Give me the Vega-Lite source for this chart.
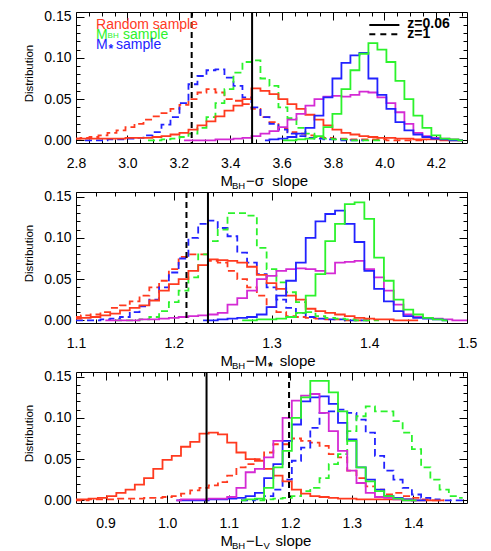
{
 "$schema": "https://vega.github.io/schema/vega-lite/v6.json",
 "padding": {"left": 23, "top": 9, "right": 0, "bottom": 0},
 "background": "white",
 "spacing": 49,
 "bounds": "flush",
 "config": {
  "view": {"stroke": "black", "strokeWidth": 1},
  "font": "Liberation Sans",
  "axis": {"grid": false, "domain": false, "labelFont": "Liberation Sans", "titleFont": "Liberation Sans", "labelColor": "black", "titleColor": "black", "tickColor": "black", "titleFontWeight": "normal", "labelFlush": false, "labelOverlap": false, "labelFontSize": 14},
  "text": {"font": "Liberation Sans"}
 },
 "datasets": {
  "p1": [
{"x":2.8,"rs":0.002,"rd":0.002},
{"x":2.835,"rs":0.002,"rd":0.003,"bd":0},
{"x":2.87,"rs":0.002,"rd":0.004,"bd":0},
{"x":2.905,"rs":0.002,"rd":0.006,"bd":0},
{"x":2.94,"rs":0.002,"rd":0.009,"bd":0.001},
{"x":2.975,"rs":0.002,"rd":0.012,"bd":0.001},
{"x":3.01,"rs":0.003,"rd":0.016,"bd":0.002},
{"x":3.045,"rs":0.003,"rd":0.02,"bd":0.003},
{"x":3.08,"rs":0.003,"rd":0.025,"bd":0.006,"gd":0},
{"x":3.115,"rs":0.004,"rd":0.029,"bd":0.01,"gd":0},
{"x":3.15,"rs":0.005,"rd":0.033,"bd":0.019,"gd":0.001},
{"x":3.185,"rs":0.007,"rd":0.038,"bd":0.028,"gd":0.002},
{"x":3.22,"rs":0.009,"rd":0.043,"bd":0.045,"gd":0.004,"ms":0},
{"x":3.255,"rs":0.013,"rd":0.05,"bd":0.068,"gd":0.008,"ms":0},
{"x":3.29,"rs":0.018,"rd":0.058,"bd":0.078,"gd":0.015,"ms":0},
{"x":3.325,"rs":0.023,"rd":0.062,"bd":0.085,"gd":0.028,"ms":0},
{"x":3.36,"rs":0.029,"rd":0.058,"bd":0.086,"gd":0.045,"ms":0.001},
{"x":3.395,"rs":0.036,"rd":0.05,"bd":0.076,"gd":0.062,"ms":0.001},
{"x":3.43,"rs":0.042,"rd":0.048,"bd":0.066,"gd":0.082,"ms":0.002},
{"x":3.465,"rs":0.05,"rd":0.044,"bd":0.052,"gd":0.095,"ms":0.003},
{"x":3.5,"rs":0.063,"rd":0.038,"bd":0.04,"gd":0.097,"ms":0.005},
{"x":3.535,"rs":0.06,"rd":0.028,"bd":0.028,"gd":0.075,"ms":0.008,"bs":0},
{"x":3.57,"rs":0.056,"rd":0.022,"bd":0.02,"gd":0.066,"ms":0.011,"bs":0.001},
{"x":3.605,"rs":0.05,"rd":0.014,"bd":0.013,"gd":0.04,"ms":0.016,"bs":0.002,"gs":0},
{"x":3.64,"rs":0.044,"rd":0.01,"bd":0.008,"gd":0.027,"ms":0.025,"bs":0.004,"gs":0},
{"x":3.675,"rs":0.038,"rd":0.008,"bd":0.005,"gd":0.015,"ms":0.032,"bs":0.008,"gs":0.001},
{"x":3.71,"rs":0.031,"rd":0.006,"bd":0.003,"gd":0.008,"ms":0.042,"bs":0.015,"gs":0.002},
{"x":3.745,"rs":0.025,"rd":0.004,"bd":0.002,"gd":0.004,"ms":0.05,"bs":0.03,"gs":0.005},
{"x":3.78,"rs":0.018,"rd":0.003,"bd":0.001,"gd":0.002,"ms":0.053,"bs":0.052,"gs":0.016},
{"x":3.815,"rs":0.013,"rd":0.002,"bd":0.001,"gd":0.001,"ms":0.054,"bs":0.075,"gs":0.032},
{"x":3.85,"rs":0.009,"rd":0.002,"bd":0,"gd":0.001,"ms":0.053,"bs":0.094,"gs":0.062},
{"x":3.885,"rs":0.007,"rd":0.001,"bd":0,"gd":0,"ms":0.055,"bs":0.103,"gs":0.085},
{"x":3.92,"rs":0.005,"rd":0.001,"bd":0,"gd":0,"ms":0.059,"bs":0.106,"gs":0.105},
{"x":3.955,"rs":0.004,"rd":0.001,"gd":0,"ms":0.058,"bs":0.075,"gs":0.118},
{"x":3.99,"rs":0.003,"rd":0.001,"gd":0,"ms":0.052,"bs":0.055,"gs":0.11},
{"x":4.025,"rs":0.003,"rd":0,"ms":0.045,"bs":0.038,"gs":0.095},
{"x":4.06,"rs":0.002,"rd":0,"ms":0.034,"bs":0.022,"gs":0.072},
{"x":4.095,"rs":0.002,"rd":0,"ms":0.02,"bs":0.012,"gs":0.05},
{"x":4.13,"rs":0.001,"rd":0,"ms":0.009,"bs":0.007,"gs":0.03},
{"x":4.165,"rs":0.001,"rd":0,"ms":0.005,"bs":0.004,"gs":0.015},
{"x":4.2,"rs":0.001,"ms":0.003,"bs":0.002,"gs":0.006},
{"x":4.235,"rs":0,"ms":0.002,"bs":0.001,"gs":0.002},
{"x":4.27,"rs":0,"ms":0.001,"bs":0,"gs":0.001},
{"x":4.305,"rs":0,"ms":0,"bs":0,"gs":0}
  ],
  "p2": [
{"x":1.1,"rs":0.002,"rd":0.004,"bd":0},
{"x":1.11,"rs":0.003,"rd":0.006,"bd":0},
{"x":1.12,"rs":0.004,"rd":0.007,"bd":0},
{"x":1.13,"rs":0.006,"rd":0.01,"bd":0.001,"ms":0},
{"x":1.14,"rs":0.008,"rd":0.015,"bd":0.002,"ms":0,"gd":0},
{"x":1.15,"rs":0.012,"rd":0.018,"bd":0.004,"ms":0,"gd":0},
{"x":1.16,"rs":0.015,"rd":0.023,"bd":0.01,"ms":0,"gd":0},
{"x":1.17,"rs":0.018,"rd":0.03,"bd":0.017,"ms":0.001,"gd":0.001},
{"x":1.18,"rs":0.024,"rd":0.04,"bd":0.025,"ms":0.001,"gd":0.004},
{"x":1.19,"rs":0.036,"rd":0.048,"bd":0.04,"ms":0.002,"gd":0.011},
{"x":1.2,"rs":0.044,"rd":0.062,"bd":0.058,"ms":0.003,"gd":0.022},
{"x":1.21,"rs":0.05,"rd":0.077,"bd":0.075,"ms":0.004,"gd":0.036},
{"x":1.22,"rs":0.06,"rd":0.08,"bd":0.1,"ms":0.005,"gd":0.052},
{"x":1.23,"rs":0.067,"rd":0.08,"bd":0.117,"ms":0.006,"gd":0.08,"bs":0},
{"x":1.24,"rs":0.074,"rd":0.072,"bd":0.121,"ms":0.007,"gd":0.096,"bs":0},
{"x":1.25,"rs":0.073,"rd":0.07,"bd":0.112,"ms":0.009,"gd":0.11,"bs":0.001},
{"x":1.26,"rs":0.072,"rd":0.06,"bd":0.102,"ms":0.019,"gd":0.13,"bs":0.002},
{"x":1.27,"rs":0.07,"rd":0.05,"bd":0.082,"ms":0.027,"gd":0.13,"bs":0.003,"gs":0},
{"x":1.28,"rs":0.065,"rd":0.04,"bd":0.07,"ms":0.036,"gd":0.127,"bs":0.004,"gs":0},
{"x":1.29,"rs":0.055,"rd":0.03,"bd":0.056,"ms":0.05,"gd":0.088,"bs":0.007,"gs":0.001},
{"x":1.3,"rs":0.045,"rd":0.016,"bd":0.04,"ms":0.054,"gd":0.062,"bs":0.016,"gs":0.001},
{"x":1.31,"rs":0.038,"rd":0.01,"bd":0.025,"ms":0.06,"gd":0.046,"bs":0.03,"gs":0.002},
{"x":1.32,"rs":0.03,"rd":0.005,"bd":0.015,"ms":0.062,"gd":0.034,"bs":0.048,"gs":0.004},
{"x":1.33,"rs":0.025,"rd":0.004,"bd":0.009,"ms":0.063,"gd":0.022,"bs":0.07,"gs":0.009},
{"x":1.34,"rs":0.014,"rd":0.003,"bd":0.004,"ms":0.062,"gd":0.01,"bs":0.1,"gs":0.03},
{"x":1.35,"rs":0.011,"rd":0.002,"bd":0.002,"ms":0.06,"gd":0.005,"bs":0.12,"gs":0.056},
{"x":1.36,"rs":0.009,"rd":0.001,"bd":0.001,"ms":0.057,"gd":0.003,"bs":0.129,"gs":0.096},
{"x":1.37,"rs":0.007,"rd":0.001,"bd":0.001,"ms":0.07,"gd":0.002,"bs":0.133,"gs":0.117},
{"x":1.38,"rs":0.005,"rd":0,"bd":0,"ms":0.071,"gd":0.001,"bs":0.117,"gs":0.141},
{"x":1.39,"rs":0.003,"rd":0,"bd":0,"ms":0.072,"gd":0,"bs":0.095,"gs":0.143},
{"x":1.4,"rs":0.002,"rd":0,"bd":0,"ms":0.062,"gd":0,"bs":0.06,"gs":0.123},
{"x":1.41,"rs":0.001,"ms":0.052,"gd":0,"bs":0.038,"gs":0.076},
{"x":1.42,"rs":0.001,"ms":0.036,"bs":0.023,"gs":0.048},
{"x":1.43,"rs":0,"ms":0.019,"bs":0.011,"gs":0.025},
{"x":1.44,"rs":0,"ms":0.007,"bs":0.005,"gs":0.013},
{"x":1.45,"rs":0,"ms":0.004,"bs":0.003,"gs":0.007},
{"x":1.46,"ms":0.003,"bs":0.002,"gs":0.003},
{"x":1.47,"ms":0.002,"bs":0.001,"gs":0.001},
{"x":1.48,"ms":0.001,"bs":0,"gs":0},
{"x":1.49,"ms":0},
{"x":1.5,"ms":0}
  ],
  "p3": [
{"x":0.85,"rs":0.001,"rd":0},
{"x":0.865,"rs":0.001,"rd":0},
{"x":0.88,"rs":0.002,"rd":0.001},
{"x":0.895,"rs":0.003,"rd":0.001},
{"x":0.91,"rs":0.005,"rd":0.001},
{"x":0.925,"rs":0.009,"rd":0.002},
{"x":0.94,"rs":0.013,"rd":0.002},
{"x":0.955,"rs":0.019,"rd":0.002},
{"x":0.97,"rs":0.027,"rd":0.003},
{"x":0.985,"rs":0.038,"rd":0.003},
{"x":1.0,"rs":0.049,"rd":0.004},
{"x":1.015,"rs":0.054,"rd":0.005,"ms":0,"bs":0},
{"x":1.03,"rs":0.065,"rd":0.008,"ms":0.001,"bs":0},
{"x":1.045,"rs":0.071,"rd":0.012,"ms":0.001,"bs":0},
{"x":1.06,"rs":0.081,"rd":0.015,"ms":0.001,"bs":0},
{"x":1.075,"rs":0.082,"rd":0.018,"ms":0.002,"bs":0.001},
{"x":1.09,"rs":0.08,"rd":0.022,"ms":0.002,"bs":0.001},
{"x":1.105,"rs":0.07,"rd":0.03,"ms":0.004,"bs":0.002},
{"x":1.12,"rs":0.058,"rd":0.04,"ms":0.015,"bs":0.003,"gs":0,"bd":0},
{"x":1.135,"rs":0.05,"rd":0.044,"ms":0.034,"bs":0.005,"gs":0.001,"bd":0},
{"x":1.15,"rs":0.048,"rd":0.05,"ms":0.038,"bs":0.009,"gs":0.002,"bd":0.001,"gd":0},
{"x":1.165,"rs":0.038,"rd":0.058,"ms":0.052,"bs":0.027,"gs":0.015,"bd":0.005,"gd":0.001},
{"x":1.18,"rs":0.03,"rd":0.068,"ms":0.072,"bs":0.044,"gs":0.04,"bd":0.013,"gd":0.002},
{"x":1.195,"rs":0.023,"rd":0.068,"ms":0.1,"bs":0.072,"gs":0.06,"bd":0.025,"gd":0.003},
{"x":1.21,"rs":0.013,"rd":0.075,"ms":0.121,"bs":0.092,"gs":0.1,"bd":0.048,"gd":0.005},
{"x":1.225,"rs":0.008,"rd":0.072,"ms":0.127,"bs":0.12,"gs":0.125,"bd":0.064,"gd":0.011},
{"x":1.24,"rs":0.005,"rd":0.07,"ms":0.129,"bs":0.125,"gs":0.145,"bd":0.088,"gd":0.015},
{"x":1.255,"rs":0.004,"rd":0.066,"ms":0.106,"bs":0.126,"gs":0.145,"bd":0.106,"gd":0.027},
{"x":1.27,"rs":0.003,"rd":0.056,"ms":0.084,"bs":0.117,"gs":0.131,"bd":0.108,"gd":0.044},
{"x":1.285,"rs":0.002,"rd":0.052,"ms":0.06,"bs":0.094,"gs":0.108,"bd":0.11,"gd":0.056},
{"x":1.3,"rs":0.002,"rd":0.036,"ms":0.036,"bs":0.074,"gs":0.072,"bd":0.106,"gd":0.084},
{"x":1.315,"rs":0.001,"rd":0.027,"ms":0.021,"bs":0.04,"gs":0.04,"bd":0.098,"gd":0.102},
{"x":1.33,"rs":0.001,"rd":0.017,"ms":0.009,"bs":0.025,"gs":0.023,"bd":0.082,"gd":0.114},
{"x":1.345,"rs":0.001,"rd":0.013,"ms":0.004,"bs":0.013,"gs":0.011,"bd":0.054,"gd":0.108},
{"x":1.36,"rs":0.001,"rd":0.007,"ms":0.003,"bs":0.005,"gs":0.005,"bd":0.036,"gd":0.108},
{"x":1.375,"rs":0.001,"rd":0.009,"ms":0.001,"bs":0.003,"gs":0.002,"bd":0.025,"gd":0.096},
{"x":1.39,"rs":0.001,"rd":0.005,"ms":0,"bs":0.001,"gs":0,"bd":0.015,"gd":0.082},
{"x":1.405,"rs":0,"rd":0.003,"ms":0,"bs":0,"gs":0,"bd":0.007,"gd":0.062},
{"x":1.42,"rs":0,"rd":0.001,"bs":0,"bd":0.003,"gd":0.04},
{"x":1.435,"rs":0,"rd":0,"bd":0.001,"gd":0.025},
{"x":1.45,"rs":0,"rd":0,"bd":0,"gd":0.013},
{"x":1.465,"bd":0,"gd":0.005},
{"x":1.48,"bd":0,"gd":0.003}
  ]
 },
 "vconcat": [
  {
   "width": 391, "height": 131,
   "resolve": {"axis": {"x": "independent", "y": "independent"}},
   "layer": [
    {
     "data": {"name": "p1"},
     "transform": [{"fold": ["rd", "gd", "bd"], "as": ["s", "v"]}, {"filter": "isValid(datum.v)"}],
     "mark": {"type": "line", "interpolate": "step", "strokeWidth": 1.8, "strokeDash": [7, 4], "clip": true},
     "encoding": {
      "x": {"field": "x", "type": "quantitative", "scale": {"domain": [2.8, 4.321], "nice": false, "zero": false},
       "axis": {"orient": "top", "values": [2.8,2.85,2.9,2.95,3,3.05,3.1,3.15,3.2,3.25,3.3,3.35,3.4,3.45,3.5,3.55,3.6,3.65,3.7,3.75,3.8,3.85,3.9,3.95,4,4.05,4.1,4.15,4.2,4.25,4.3], "labels": false,
        "tickSize": {"condition": {"test": "abs(datum.value*5-round(datum.value*5))<0.001", "value": -8}, "value": -4},
        "title": "BH", "titleFontSize": 9.5, "titleX": 155.5, "titleY": 176.5, "titleAlign": "left", "titleBaseline": "alphabetic", "titleAngle": 0}},
      "y": {"field": "v", "type": "quantitative", "scale": {"domain": [-0.0033, 0.1557], "nice": false, "zero": false},
       "axis": {"orient": "right", "values": [0,0.01,0.02,0.03,0.04,0.05,0.06,0.07,0.08,0.09,0.1,0.11,0.12,0.13,0.14,0.15], "labels": false,
        "tickSize": {"condition": {"test": "abs(datum.value*20-round(datum.value*20))<0.001", "value": -8}, "value": -4},
        "title": "−σ\u00a0\u00a0slope", "titleFontSize": 15, "titleX": -221.5, "titleY": 173.5, "titleAlign": "left", "titleBaseline": "alphabetic", "titleAngle": 0}},
      "color": {"field": "s", "type": "nominal", "legend": null, "scale": {"domain": ["rs","rd","gs","gd","bs","bd","ms"], "range": ["#ff3a1f","#ff3a1f","#2cf22c","#2cf22c","#2222ff","#2222ff","#d42ad4"]}}
     }
    },
    {
     "data": {"name": "p1"},
     "transform": [{"fold": ["rs", "gs", "bs", "ms"], "as": ["s", "v"]}, {"filter": "isValid(datum.v)"}],
     "mark": {"type": "line", "interpolate": "step", "strokeWidth": 1.8, "clip": true},
     "encoding": {
      "x": {"field": "x", "type": "quantitative", "scale": {"domain": [2.8, 4.321], "nice": false, "zero": false},
       "axis": {"orient": "bottom", "values": [2.8,2.85,2.9,2.95,3,3.05,3.1,3.15,3.2,3.25,3.3,3.35,3.4,3.45,3.5,3.55,3.6,3.65,3.7,3.75,3.8,3.85,3.9,3.95,4,4.05,4.1,4.15,4.2,4.25,4.3], "format": ".1f",
        "labelExpr": "abs(datum.value*5-round(datum.value*5))<0.001 ? datum.label : ''",
        "tickSize": {"condition": {"test": "abs(datum.value*5-round(datum.value*5))<0.001", "value": -8}, "value": -4},
        "labelPadding": 21,
        "title": "M", "titleFontSize": 15, "titleX": 144, "titleY": 42.5, "titleAlign": "left", "titleBaseline": "alphabetic", "titleAngle": 0}},
      "y": {"field": "v", "type": "quantitative", "scale": {"domain": [-0.0033, 0.1557], "nice": false, "zero": false},
       "axis": {"orient": "left", "values": [0,0.01,0.02,0.03,0.04,0.05,0.06,0.07,0.08,0.09,0.1,0.11,0.12,0.13,0.14,0.15], "format": ".2f",
        "labelExpr": "abs(datum.value*20-round(datum.value*20))<0.001 ? datum.label : ''",
        "tickSize": {"condition": {"test": "abs(datum.value*20-round(datum.value*20))<0.001", "value": -8}, "value": -4},
        "labelPadding": 13,
        "title": "Distribution", "titleFontSize": 11.5, "titlePadding": 9, "titleY": 61}},
      "color": {"field": "s", "type": "nominal", "legend": null, "scale": {"domain": ["rs","rd","gs","gd","bs","bd","ms"], "range": ["#ff3a1f","#ff3a1f","#2cf22c","#2cf22c","#2222ff","#2222ff","#d42ad4"]}}
     }
    },
    {
     "data": {"values": [{"x": 3.485, "z": "z=0.06"}, {"x": 3.25, "z": "z=1"}]},
     "mark": {"type": "rule", "color": "black", "strokeWidth": 2},
     "encoding": {
      "x": {"field": "x", "type": "quantitative", "axis": null},
      "strokeDash": {"field": "z", "type": "nominal", "scale": {"domain": ["z=0.06", "z=1"], "range": [[1, 0], [6, 4]]}, "legend": null}
     }
    },
    {
     "data": {"values": [{}]},
     "mark": {"type": "rule", "color": "black", "strokeWidth": 2},
     "encoding": {"x": {"datum": 3.941, "type": "quantitative", "axis": null}, "x2": {"datum": 4.058}, "y": {"datum": 0.1399, "type": "quantitative", "axis": null}}
    },
    {
     "data": {"values": [{}]},
     "mark": {"type": "rule", "color": "black", "strokeWidth": 2, "strokeDash": [6, 5]},
     "encoding": {"x": {"datum": 3.941, "type": "quantitative", "axis": null}, "x2": {"datum": 4.058}, "y": {"datum": 0.1286, "type": "quantitative", "axis": null}}
    },
    {
     "data": {"values": [{}]},
     "mark": {"type": "text", "text": "z=0.06", "color": "black", "fontSize": 14, "fontWeight": "bold", "align": "left", "baseline": "alphabetic"},
     "encoding": {"x": {"datum": 4.089, "type": "quantitative", "axis": null}, "y": {"datum": 0.1359, "type": "quantitative", "axis": null}}
    },
    {
     "data": {"values": [{}]},
     "mark": {"type": "text", "text": "z=1", "color": "black", "fontSize": 14, "fontWeight": "bold", "align": "left", "baseline": "alphabetic"},
     "encoding": {"x": {"datum": 4.089, "type": "quantitative", "axis": null}, "y": {"datum": 0.1245, "type": "quantitative", "axis": null}}
    },
    {
     "data": {"values": [{}]},
     "mark": {"type": "text", "text": "Random sample", "color": "#ff3a1f", "fontSize": 14, "align": "left", "baseline": "alphabetic"},
     "encoding": {"x": {"datum": 2.878, "type": "quantitative", "axis": null}, "y": {"datum": 0.1354, "type": "quantitative", "axis": null}}
    },
    {
     "data": {"values": [{}]},
     "mark": {"type": "text", "text": "M", "color": "#2cf22c", "fontSize": 14, "align": "left", "baseline": "alphabetic"},
     "encoding": {"x": {"datum": 2.878, "type": "quantitative", "axis": null}, "y": {"datum": 0.1233, "type": "quantitative", "axis": null}}
    },
    {
     "data": {"values": [{}]},
     "mark": {"type": "text", "text": "BH", "color": "#2cf22c", "fontSize": 8, "align": "left", "baseline": "alphabetic", "dx": 11.5, "dy": -1},
     "encoding": {"x": {"datum": 2.878, "type": "quantitative", "axis": null}, "y": {"datum": 0.1233, "type": "quantitative", "axis": null}}
    },
    {
     "data": {"values": [{}]},
     "mark": {"type": "text", "text": "sample", "color": "#2cf22c", "fontSize": 14, "align": "left", "baseline": "alphabetic", "dx": 27},
     "encoding": {"x": {"datum": 2.878, "type": "quantitative", "axis": null}, "y": {"datum": 0.1233, "type": "quantitative", "axis": null}}
    },
    {
     "data": {"values": [{}]},
     "mark": {"type": "text", "text": "M", "color": "#2222ff", "fontSize": 14, "align": "left", "baseline": "alphabetic"},
     "encoding": {"x": {"datum": 2.878, "type": "quantitative", "axis": null}, "y": {"datum": 0.1108, "type": "quantitative", "axis": null}}
    },
    {
     "data": {"values": [{}]},
     "mark": {"type": "text", "text": "*", "color": "#2222ff", "fontSize": 12, "fontWeight": "bold", "align": "left", "baseline": "alphabetic", "dx": 12.5, "dy": 4},
     "encoding": {"x": {"datum": 2.878, "type": "quantitative", "axis": null}, "y": {"datum": 0.1108, "type": "quantitative", "axis": null}}
    },
    {
     "data": {"values": [{}]},
     "mark": {"type": "text", "text": "sample", "color": "#2222ff", "fontSize": 14, "align": "left", "baseline": "alphabetic", "dx": 20},
     "encoding": {"x": {"datum": 2.878, "type": "quantitative", "axis": null}, "y": {"datum": 0.1108, "type": "quantitative", "axis": null}}
    }
   ]
  },
  {
   "width": 391, "height": 131,
   "resolve": {"axis": {"x": "independent", "y": "independent"}},
   "layer": [
    {
     "data": {"name": "p2"},
     "transform": [{"fold": ["rd", "gd", "bd"], "as": ["s", "v"]}, {"filter": "isValid(datum.v)"}],
     "mark": {"type": "line", "interpolate": "step", "strokeWidth": 1.8, "strokeDash": [7, 4], "clip": true},
     "encoding": {
      "x": {"field": "x", "type": "quantitative", "scale": {"domain": [1.1, 1.5], "nice": false, "zero": false},
       "axis": {"orient": "top", "values": [1.1,1.12,1.14,1.16,1.18,1.2,1.22,1.24,1.26,1.28,1.3,1.32,1.34,1.36,1.38,1.4,1.42,1.44,1.46,1.48,1.5], "labels": false,
        "tickSize": {"condition": {"test": "abs(datum.value*10-round(datum.value*10))<0.001", "value": -8}, "value": -4},
        "title": "BH", "titleFontSize": 9.5, "titleX": 155.5, "titleY": 176.5, "titleAlign": "left", "titleBaseline": "alphabetic", "titleAngle": 0}},
      "y": {"field": "v", "type": "quantitative", "scale": {"domain": [-0.0033, 0.1557], "nice": false, "zero": false},
       "axis": {"orient": "right", "values": [0,0.01,0.02,0.03,0.04,0.05,0.06,0.07,0.08,0.09,0.1,0.11,0.12,0.13,0.14,0.15], "labels": false,
        "tickSize": {"condition": {"test": "abs(datum.value*20-round(datum.value*20))<0.001", "value": -8}, "value": -4},
        "title": "−M\u00a0\u00a0\u00a0slope", "titleFontSize": 15, "titleX": -221.5, "titleY": 173.5, "titleAlign": "left", "titleBaseline": "alphabetic", "titleAngle": 0}},
      "color": {"field": "s", "type": "nominal", "legend": null, "scale": {"domain": ["rs","rd","gs","gd","bs","bd","ms"], "range": ["#ff3a1f","#ff3a1f","#2cf22c","#2cf22c","#2222ff","#2222ff","#d42ad4"]}}
     }
    },
    {
     "data": {"name": "p2"},
     "transform": [{"fold": ["rs", "gs", "bs", "ms"], "as": ["s", "v"]}, {"filter": "isValid(datum.v)"}],
     "mark": {"type": "line", "interpolate": "step", "strokeWidth": 1.8, "clip": true},
     "encoding": {
      "x": {"field": "x", "type": "quantitative", "scale": {"domain": [1.1, 1.5], "nice": false, "zero": false},
       "axis": {"orient": "bottom", "values": [1.1,1.12,1.14,1.16,1.18,1.2,1.22,1.24,1.26,1.28,1.3,1.32,1.34,1.36,1.38,1.4,1.42,1.44,1.46,1.48,1.5], "format": ".1f",
        "labelExpr": "abs(datum.value*10-round(datum.value*10))<0.001 ? datum.label : ''",
        "tickSize": {"condition": {"test": "abs(datum.value*10-round(datum.value*10))<0.001", "value": -8}, "value": -4},
        "labelPadding": 21,
        "title": "M", "titleFontSize": 15, "titleX": 144, "titleY": 42.5, "titleAlign": "left", "titleBaseline": "alphabetic", "titleAngle": 0}},
      "y": {"field": "v", "type": "quantitative", "scale": {"domain": [-0.0033, 0.1557], "nice": false, "zero": false},
       "axis": {"orient": "left", "values": [0,0.01,0.02,0.03,0.04,0.05,0.06,0.07,0.08,0.09,0.1,0.11,0.12,0.13,0.14,0.15], "format": ".2f",
        "labelExpr": "abs(datum.value*20-round(datum.value*20))<0.001 ? datum.label : ''",
        "tickSize": {"condition": {"test": "abs(datum.value*20-round(datum.value*20))<0.001", "value": -8}, "value": -4},
        "labelPadding": 13,
        "title": "Distribution", "titleFontSize": 11.5, "titlePadding": 9, "titleY": 61}},
      "color": {"field": "s", "type": "nominal", "legend": null, "scale": {"domain": ["rs","rd","gs","gd","bs","bd","ms"], "range": ["#ff3a1f","#ff3a1f","#2cf22c","#2cf22c","#2222ff","#2222ff","#d42ad4"]}}
     }
    },
    {
     "data": {"values": [{"x": 1.235, "z": "z=0.06"}, {"x": 1.213, "z": "z=1"}]},
     "mark": {"type": "rule", "color": "black", "strokeWidth": 2},
     "encoding": {
      "x": {"field": "x", "type": "quantitative", "axis": {"orient": "bottom", "ticks": false, "labels": false, "title": "*", "titleFontSize": 12, "titleFontWeight": "bold", "titleX": 191.5, "titleY": 47, "titleAlign": "left", "titleBaseline": "alphabetic", "titleAngle": 0}},
      "strokeDash": {"field": "z", "type": "nominal", "scale": {"domain": ["z=0.06", "z=1"], "range": [[1, 0], [6, 4]]}, "legend": null}
     }
    }
   ]
  },
  {
   "width": 391, "height": 131,
   "resolve": {"axis": {"x": "independent", "y": "independent"}},
   "layer": [
    {
     "data": {"name": "p3"},
     "transform": [{"fold": ["rd", "gd", "bd"], "as": ["s", "v"]}, {"filter": "isValid(datum.v)"}],
     "mark": {"type": "line", "interpolate": "step", "strokeWidth": 1.8, "strokeDash": [7, 4], "clip": true},
     "encoding": {
      "x": {"field": "x", "type": "quantitative", "scale": {"domain": [0.852, 1.487], "nice": false, "zero": false},
       "axis": {"orient": "top", "values": [0.86,0.88,0.9,0.92,0.94,0.96,0.98,1,1.02,1.04,1.06,1.08,1.1,1.12,1.14,1.16,1.18,1.2,1.22,1.24,1.26,1.28,1.3,1.32,1.34,1.36,1.38,1.4,1.42,1.44,1.46,1.48], "labels": false,
        "tickSize": {"condition": {"test": "abs(datum.value*10-round(datum.value*10))<0.001", "value": -8}, "value": -4},
        "title": "BH", "titleFontSize": 9.5, "titleX": 155.5, "titleY": 176.5, "titleAlign": "left", "titleBaseline": "alphabetic", "titleAngle": 0}},
      "y": {"field": "v", "type": "quantitative", "scale": {"domain": [-0.0033, 0.1557], "nice": false, "zero": false},
       "axis": {"orient": "right", "values": [0,0.01,0.02,0.03,0.04,0.05,0.06,0.07,0.08,0.09,0.1,0.11,0.12,0.13,0.14,0.15], "labels": false,
        "tickSize": {"condition": {"test": "abs(datum.value*20-round(datum.value*20))<0.001", "value": -8}, "value": -4},
        "title": "−L\u00a0\u00a0\u00a0slope", "titleFontSize": 15, "titleX": -221.5, "titleY": 173.5, "titleAlign": "left", "titleBaseline": "alphabetic", "titleAngle": 0}},
      "color": {"field": "s", "type": "nominal", "legend": null, "scale": {"domain": ["rs","rd","gs","gd","bs","bd","ms"], "range": ["#ff3a1f","#ff3a1f","#2cf22c","#2cf22c","#2222ff","#2222ff","#d42ad4"]}}
     }
    },
    {
     "data": {"name": "p3"},
     "transform": [{"fold": ["rs", "gs", "bs", "ms"], "as": ["s", "v"]}, {"filter": "isValid(datum.v)"}],
     "mark": {"type": "line", "interpolate": "step", "strokeWidth": 1.8, "clip": true},
     "encoding": {
      "x": {"field": "x", "type": "quantitative", "scale": {"domain": [0.852, 1.487], "nice": false, "zero": false},
       "axis": {"orient": "bottom", "values": [0.86,0.88,0.9,0.92,0.94,0.96,0.98,1,1.02,1.04,1.06,1.08,1.1,1.12,1.14,1.16,1.18,1.2,1.22,1.24,1.26,1.28,1.3,1.32,1.34,1.36,1.38,1.4,1.42,1.44,1.46,1.48], "format": ".1f",
        "labelExpr": "abs(datum.value*10-round(datum.value*10))<0.001 ? datum.label : ''",
        "tickSize": {"condition": {"test": "abs(datum.value*10-round(datum.value*10))<0.001", "value": -8}, "value": -4},
        "labelPadding": 21,
        "title": "M", "titleFontSize": 15, "titleX": 144, "titleY": 42.5, "titleAlign": "left", "titleBaseline": "alphabetic", "titleAngle": 0}},
      "y": {"field": "v", "type": "quantitative", "scale": {"domain": [-0.0033, 0.1557], "nice": false, "zero": false},
       "axis": {"orient": "left", "values": [0,0.01,0.02,0.03,0.04,0.05,0.06,0.07,0.08,0.09,0.1,0.11,0.12,0.13,0.14,0.15], "format": ".2f",
        "labelExpr": "abs(datum.value*20-round(datum.value*20))<0.001 ? datum.label : ''",
        "tickSize": {"condition": {"test": "abs(datum.value*20-round(datum.value*20))<0.001", "value": -8}, "value": -4},
        "labelPadding": 13,
        "title": "Distribution", "titleFontSize": 11.5, "titlePadding": 9, "titleY": 61}},
      "color": {"field": "s", "type": "nominal", "legend": null, "scale": {"domain": ["rs","rd","gs","gd","bs","bd","ms"], "range": ["#ff3a1f","#ff3a1f","#2cf22c","#2cf22c","#2222ff","#2222ff","#d42ad4"]}}
     }
    },
    {
     "data": {"values": [{"x": 1.064, "z": "z=0.06"}, {"x": 1.198, "z": "z=1"}]},
     "mark": {"type": "rule", "color": "black", "strokeWidth": 2},
     "encoding": {
      "x": {"field": "x", "type": "quantitative", "axis": {"orient": "bottom", "ticks": false, "labels": false, "title": "V", "titleFontSize": 9.5, "titleX": 187, "titleY": 45.5, "titleAlign": "left", "titleBaseline": "alphabetic", "titleAngle": 0}},
      "strokeDash": {"field": "z", "type": "nominal", "scale": {"domain": ["z=0.06", "z=1"], "range": [[1, 0], [6, 4]]}, "legend": null}
     }
    }
   ]
  }
 ]
}
